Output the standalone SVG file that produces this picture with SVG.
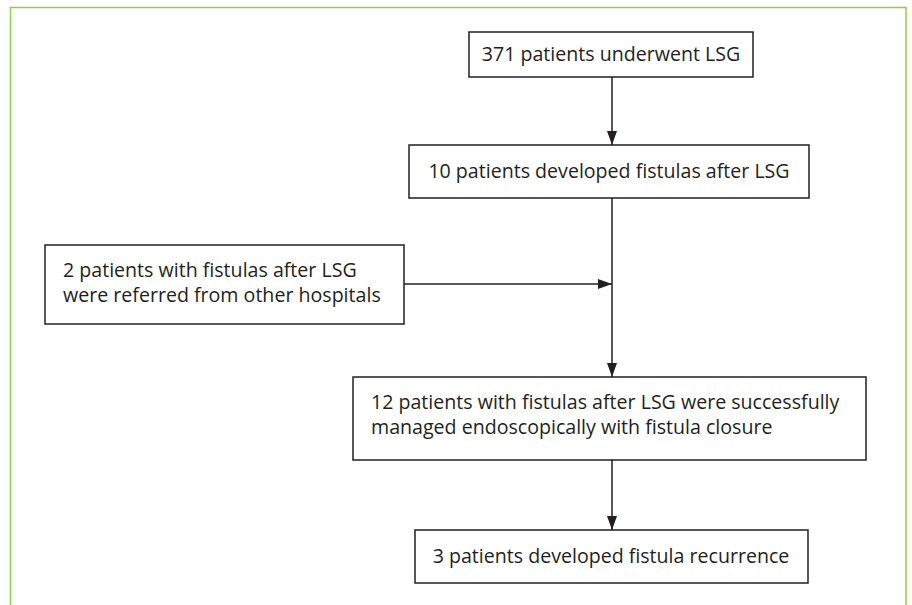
<svg xmlns="http://www.w3.org/2000/svg" width="912" height="605" viewBox="0 0 912 605">
<style>
.box{fill:#fff;stroke:#231f20;stroke-width:1.5}
.t{font-family:"Open Sans","Noto Sans",sans-serif;font-size:19.6px;fill:#231f20}
.c{text-anchor:middle}
.ln{stroke:#231f20;stroke-width:1.5;fill:none}
</style>
<defs>
<marker id="ah" markerWidth="14" markerHeight="12" refX="14" refY="5" orient="auto" markerUnits="userSpaceOnUse" viewBox="0 0 14 10">
<path d="M0,0 L14,5 L0,10 z" fill="#231f20"/>
</marker>
</defs>
<rect x="0" y="0" width="912" height="605" fill="#fff"/>
<path d="M10.5,605 L10.5,7.5 L906,7.5 L906,605" fill="none" stroke="#8ed04a" stroke-width="1.5"/>
<g id="connectors">
<line class="ln" x1="612" y1="77" x2="612" y2="145" marker-end="url(#ah)"/>
<line class="ln" x1="612" y1="198" x2="612" y2="377" marker-end="url(#ah)"/>
<line class="ln" x1="404" y1="284" x2="612" y2="284" marker-end="url(#ah)"/>
<line class="ln" x1="612" y1="460" x2="612" y2="530" marker-end="url(#ah)"/>
</g>
<g id="n1">
<rect class="box" x="469" y="32" width="284" height="45"/>
<text class="t c" x="611" y="61">371 patients underwent LSG</text>
</g>
<g id="n2">
<rect class="box" x="409" y="145" width="400" height="53"/>
<text class="t c" x="609" y="178">10 patients developed fistulas after LSG</text>
</g>
<g id="n3">
<rect class="box" x="45" y="245" width="359" height="79"/>
<text class="t" x="63" y="277">2 patients with fistulas after LSG</text>
<text class="t" x="63" y="302">were referred from other hospitals</text>
</g>
<g id="n4">
<rect class="box" x="353" y="377" width="513" height="83"/>
<text class="t" x="371" y="409">12 patients with fistulas after LSG were successfully</text>
<text class="t" x="371" y="434">managed endoscopically with fistula closure</text>
</g>
<g id="n5">
<rect class="box" x="415" y="530" width="393" height="53"/>
<text class="t c" x="611" y="563">3 patients developed fistula recurrence</text>
</g>
</svg>
